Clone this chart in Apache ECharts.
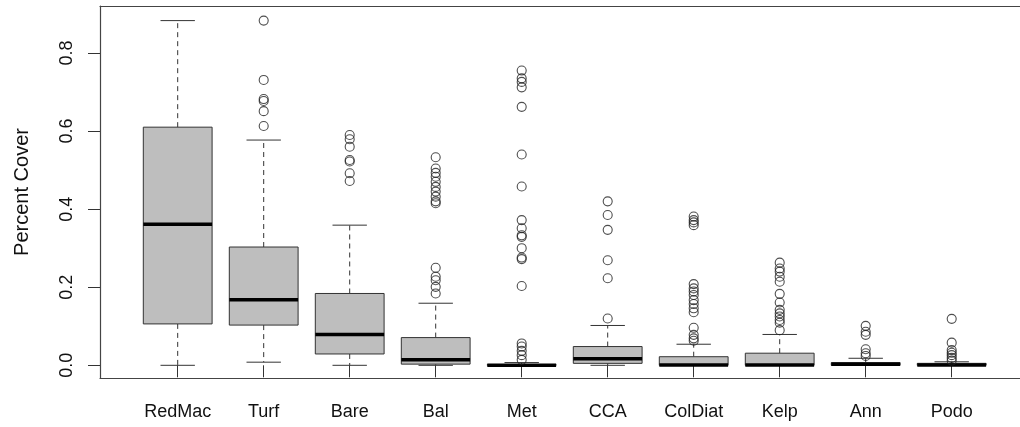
<!DOCTYPE html>
<html>
<head>
<meta charset="utf-8">
<script src="https://cdn.jsdelivr.net/npm/echarts@6/dist/echarts.min.js"></script>
<style>
html,body{margin:0;padding:0;background:#fff;}
#chart{width:1020px;height:427px;}
</style>
</head>
<body>
<div id="chart"></div>
<script>
var categories = ['RedMac','Turf','Bare','Bal','Met','CCA','ColDiat','Kelp','Ann','Podo'];
var whiskerLow  = [0.000, 0.008, 0.000, 0.000, 0.000, 0.000, 0.000, 0.000, 0.000, 0.000];
var q1          = [0.106, 0.103, 0.029, 0.003, 0.000, 0.005, 0.000, 0.000, 0.000, 0.000];
var median      = [0.361, 0.168, 0.079, 0.014, 0.000, 0.017, 0.001, 0.001, 0.003, 0.001];
var q3          = [0.610, 0.303, 0.184, 0.071, 0.002, 0.048, 0.022, 0.031, 0.007, 0.005];
var whiskerHigh = [0.883, 0.577, 0.359, 0.159, 0.007, 0.102, 0.054, 0.079, 0.018, 0.009];
var outliers = [
  [],
  [0.883, 0.731, 0.682, 0.677, 0.651, 0.613],
  [0.590, 0.579, 0.560, 0.526, 0.522, 0.492, 0.472],
  [0.533, 0.504, 0.493, 0.483, 0.470, 0.457, 0.445, 0.432, 0.420, 0.415, 0.250, 0.227, 0.218, 0.201, 0.184],
  [0.755, 0.735, 0.726, 0.712, 0.662, 0.540, 0.458, 0.372, 0.351, 0.333, 0.329, 0.300, 0.276, 0.272, 0.203, 0.056, 0.048, 0.037, 0.026, 0.014],
  [0.420, 0.385, 0.347, 0.269, 0.223, 0.120],
  [0.381, 0.372, 0.366, 0.359, 0.208, 0.197, 0.189, 0.180, 0.167, 0.157, 0.146, 0.136, 0.096, 0.078, 0.069, 0.063],
  [0.263, 0.248, 0.240, 0.227, 0.214, 0.183, 0.161, 0.142, 0.133, 0.125, 0.116, 0.109, 0.090],
  [0.101, 0.086, 0.078, 0.041, 0.031, 0.024],
  [0.119, 0.058, 0.039, 0.032, 0.026, 0.019, 0.012]
];
var yLabel = 'Percent Cover';

var boxData = categories.map(function (c, i) {
  return [i, whiskerLow[i], q1[i], median[i], q3[i], whiskerHigh[i]];
});
var outlierData = [];
outliers.forEach(function (arr, i) {
  arr.forEach(function (v) { outlierData.push([i, v]); });
});

var FONT = 'Liberation Sans, Arial, Helvetica, sans-serif';
var LINE = '#333';
var FRAME = { show: true, lineStyle: { color: '#444', width: 1.2 } };

function renderBox(params, api) {
  var idx = api.value(0);
  var lo = api.coord([idx, api.value(1)]);
  var b1 = api.coord([idx, api.value(2)]);
  var md = api.coord([idx, api.value(3)]);
  var b3 = api.coord([idx, api.value(4)]);
  var hi = api.coord([idx, api.value(5)]);
  var band = api.size([1, 0])[0];
  var w = band * 0.8;
  var cx = lo[0];
  var dash = { stroke: LINE, lineWidth: 1, lineDash: [5, 4] };
  var solid = { stroke: LINE, lineWidth: 1 };
  return {
    type: 'group',
    children: [
      { type: 'line', shape: { x1: cx, y1: b3[1], x2: cx, y2: hi[1] }, style: dash },
      { type: 'line', shape: { x1: cx, y1: b1[1], x2: cx, y2: lo[1] }, style: dash },
      { type: 'line', shape: { x1: cx - w / 4, y1: hi[1], x2: cx + w / 4, y2: hi[1] }, style: solid },
      { type: 'line', shape: { x1: cx - w / 4, y1: lo[1], x2: cx + w / 4, y2: lo[1] }, style: solid },
      { type: 'rect', shape: { x: cx - w / 2, y: b3[1], width: w, height: b1[1] - b3[1] },
        style: { fill: '#bebebe', stroke: LINE, lineWidth: 1 } },
      { type: 'line', shape: { x1: cx - w / 2, y1: md[1], x2: cx + w / 2, y2: md[1] },
        style: { stroke: '#000', lineWidth: 3.5 } }
    ]
  };
}

var chart = echarts.init(document.getElementById('chart'), null, { renderer: 'canvas' });
chart.setOption({
  animation: false,
  backgroundColor: '#fff',
  grid: [
    { left: 134.7, top: 53, width: 860, height: 312.3, show: false },
    { left: 100, top: 6, right: 0, height: 372, show: false }
  ],
  xAxis: [
    {
      type: 'category', gridIndex: 0, data: categories, boundaryGap: true,
      offset: 12.7,
      axisLine: { show: false },
      axisTick: { show: true, alignWithLabel: true, length: 12, lineStyle: { color: LINE, width: 1 } },
      axisLabel: { fontFamily: FONT, fontSize: 18, color: '#111', margin: 25, interval: 0 },
      splitLine: { show: false }
    },
    { type: 'value', gridIndex: 1, position: 'bottom', min: 0, max: 1,
      axisLine: FRAME, axisTick: { show: false }, axisLabel: { show: false }, splitLine: { show: false } },
    { type: 'value', gridIndex: 1, position: 'top', min: 0, max: 1,
      axisLine: FRAME, axisTick: { show: false }, axisLabel: { show: false }, splitLine: { show: false } }
  ],
  yAxis: [
    {
      type: 'value', gridIndex: 0, min: 0, max: 0.8, interval: 0.2,
      offset: 34.7,
      axisLine: { show: false },
      axisTick: { show: true, length: 12, lineStyle: { color: LINE, width: 1 } },
      axisLabel: { rotate: 90, fontFamily: FONT, fontSize: 18, color: '#111', margin: 24,
        formatter: function (v) { return v.toFixed(1); } },
      splitLine: { show: false }
    },
    {
      type: 'value', gridIndex: 1, position: 'left', min: 0, max: 1,
      name: yLabel, nameLocation: 'middle', nameGap: 68, nameRotate: 90,
      nameTextStyle: { fontFamily: FONT, fontSize: 20, color: '#111' },
      axisLine: FRAME, axisTick: { show: false }, axisLabel: { show: false },
      splitLine: { show: false }
    }
  ],
  series: [
    {
      type: 'custom', xAxisIndex: 0, yAxisIndex: 0,
      renderItem: renderBox, data: boxData, clip: false,
      encode: { x: 0, y: [1, 2, 3, 4, 5] }
    },
    {
      type: 'scatter', xAxisIndex: 0, yAxisIndex: 0, data: outlierData,
      symbol: 'circle', symbolSize: 9, clip: false,
      itemStyle: { color: 'rgba(0,0,0,0)', borderColor: '#222', borderWidth: 1.1 },
      emphasis: { disabled: true }
    }
  ]
});
</script>
</body>
</html>
